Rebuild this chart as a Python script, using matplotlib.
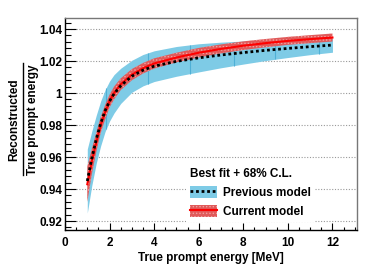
import numpy as np
import matplotlib
matplotlib.use('Agg')
import matplotlib.pyplot as plt
from matplotlib.patches import Patch
from matplotlib.lines import Line2D
from matplotlib.ticker import MultipleLocator

plt.rcParams['font.family'] = ['Liberation Sans', 'DejaVu Sans']
plt.rcParams['font.weight'] = 'bold'
plt.rcParams['hatch.linewidth'] = 0.6

# true prompt energy [MeV]
energy = [1.0, 1.2, 1.4, 1.6, 1.8, 2.0, 2.2, 2.5, 3.0, 3.5, 4.0, 5.0, 6.0, 7.0, 8.0, 9.0, 10.0, 11.0, 12.0]

# current model: best fit and 68% half width
cur_fit = [0.943, 0.957, 0.969, 0.980, 0.988, 0.995, 1.0000, 1.0055, 1.0115, 1.0155, 1.0185,
           1.0222, 1.0252, 1.0276, 1.0296, 1.0312, 1.0326, 1.0337, 1.0347]
cur_err = [0.011, 0.008, 0.006, 0.005, 0.0045, 0.004, 0.004, 0.0037, 0.0035, 0.0033, 0.0032,
           0.003, 0.003, 0.0028, 0.0027, 0.0026, 0.0025, 0.0025, 0.0025]

# previous model
prev_fit = [0.945, 0.959, 0.971, 0.981, 0.989, 0.995, 0.9995, 1.0045, 1.0105, 1.0143, 1.0168,
            1.0198, 1.0220, 1.0238, 1.0253, 1.0267, 1.0279, 1.0290, 1.0300]
prev_err = [0.020, 0.017, 0.015, 0.014, 0.013, 0.0125, 0.012, 0.011, 0.010, 0.0098, 0.0096,
            0.0093, 0.0088, 0.008, 0.0072, 0.0064, 0.0057, 0.005, 0.0045]
# points where the previous model shows error bars
prev_bar_e = [1.84, 3.72, 5.6, 7.57, 9.4, 11.4]

blue = '#7ecbe6'
blue_dark = '#4fb0d6'
red_fill = '#e05a5a'
red_line = '#ff0000'

E = np.array(energy)
cf, ce = np.array(cur_fit), np.array(cur_err)
pf, pe = np.array(prev_fit), np.array(prev_err)

fig = plt.figure(figsize=(3.74, 2.68), dpi=100)
ax = fig.add_axes([0.1738, 0.1418, 0.9545 - 0.1738, 0.9328 - 0.1418])

ax.set_xlim(0, 13.1)
ax.set_ylim(0.9144, 1.0469)

for y in [0.92, 0.94, 0.96, 0.98, 1.0, 1.02, 1.04]:
    ax.axhline(y, color='#999999', lw=0.8, ls=(0, (1, 1.5)), zorder=0)

ax.fill_between(E, pf - pe, pf + pe, color=blue, lw=0, zorder=1)
bar_lo = np.interp(prev_bar_e, E, pf - pe)
bar_hi = np.interp(prev_bar_e, E, pf + pe)
ax.vlines(prev_bar_e, bar_lo, bar_hi, color=blue_dark, lw=0.8, zorder=1.5)

ax.fill_between(E, cf - ce, cf + ce, facecolor=red_fill, edgecolor='#f2a0a0',
                hatch='.....', lw=0, zorder=2)
ax.plot(E, cf, color=red_line, lw=1.5, zorder=3)
ax.plot(E, pf, color='black', lw=2, ls=(0, (1, 1)), zorder=4)

ax.xaxis.set_major_locator(MultipleLocator(2))
ax.xaxis.set_minor_locator(MultipleLocator(0.5))
ax.yaxis.set_major_locator(MultipleLocator(0.02))
ax.yaxis.set_minor_locator(MultipleLocator(0.004))
ax.yaxis.set_major_formatter(plt.FuncFormatter(lambda v, p: ('%g' % round(v, 3))))
ax.tick_params(axis='both', which='both', direction='in', top=False, right=False,
               labelsize=8.5, width=0.8)
ax.tick_params(axis='y', which='major', length=8, pad=2)
ax.tick_params(axis='y', which='minor', length=4)
ax.tick_params(axis='x', which='major', length=5, pad=5)
ax.tick_params(axis='x', which='minor', length=2.5)
for lab in ax.get_xticklabels() + ax.get_yticklabels():
    lab.set_fontweight('bold')

ax.spines['left'].set_color('black')
ax.spines['bottom'].set_color('black')
ax.spines['top'].set_color('#777777')
ax.spines['right'].set_color('#777777')
for s in ax.spines.values():
    s.set_linewidth(1)

ax.set_xlabel('True prompt energy [MeV]', fontsize=8.5, fontweight='bold', labelpad=2.5)

# fraction style y label
fig.text(0.037, 0.552, 'Reconstructed', rotation=90, ha='center', va='center',
         fontsize=8.5, fontweight='bold')
fig.text(0.088, 0.552, 'True prompt energy', rotation=90, ha='center', va='center',
         fontsize=8.5, fontweight='bold')
fig.add_artist(Line2D([0.0615, 0.0615], [0.347, 0.765], color='black', lw=1,
                      transform=fig.transFigure))

h_prev = (Patch(facecolor=blue, edgecolor='none'),
          Line2D([], [], color='black', lw=2, ls=(0, (1, 1))))
h_cur = (Patch(facecolor=red_fill, edgecolor='#f2a0a0', hatch='.....', lw=0),
         Line2D([], [], color=red_line, lw=1.5))
leg = ax.legend([h_prev, h_cur], ['Previous model', 'Current model'],
                title='Best fit + 68% C.L.', loc='lower left',
                bbox_to_anchor=(0.415, 0.04), frameon=True, fancybox=False,
                edgecolor='none', facecolor='white', framealpha=1,
                prop={'size': 8.5, 'weight': 'bold'}, handlelength=2.3,
                handleheight=1.2, handletextpad=0.5, labelspacing=0.5,
                borderaxespad=0, borderpad=0.3)
leg.get_title().set_fontweight('bold')
leg.get_title().set_fontsize(8.5)
leg._legend_box.align = 'left'
leg.set_zorder(5)

fig.savefig('out.png', dpi=100)
